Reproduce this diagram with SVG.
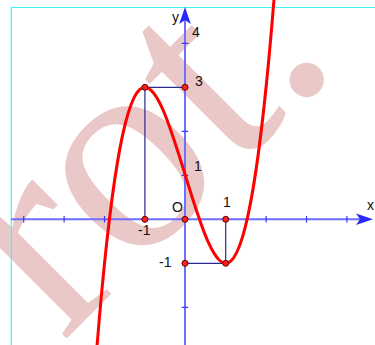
<svg xmlns="http://www.w3.org/2000/svg" width="375" height="345" viewBox="0 0 375 345">
<style>
.wm{font-family:"Liberation Serif",serif;font-size:290px;fill:#eac8c8}
.ax{stroke:#6e6eff;stroke-width:2;fill:none}
.tk{stroke:#3a3aee;stroke-width:1.2}
.pr{stroke:#2a2a90;stroke-width:1.2;fill:none}
.fr{stroke:#40f4f4;stroke-width:1.2;fill:none}
.lb{font-family:"Liberation Sans",Arial,sans-serif;font-size:14px;fill:#111}
.pt{fill:#ff2020;stroke:#600;stroke-width:1}
.ar{fill:#2828ff}
</style>
<rect width="375" height="345" fill="#fff"/>
<text class="wm" transform="translate(62.5,342.6) rotate(-45)">rot.</text>
<path class="fr" d="M11.3,345 V7.5 H375"/>
<g id="axes">
<path class="ax" d="M11,219.3 H364"/>
<path class="ax" d="M185,345 V15"/>
<path class="ar" d="M373,219.3 L356,213.5 L360,219.3 L356,225.1 Z"/>
<path class="ar" d="M185,7 L179.2,24 L185,20 L190.8,24 Z"/>
<path class="tk" d="M23.7,216 v6.6 M64.1,216 v6.6 M104.5,216 v6.6 M144.9,216 v6.6 M225.7,216 v6.6 M266.1,216 v6.6 M306.5,216 v6.6 M346.9,216 v6.6 M181.7,43.3 h6.6 M181.7,87.3 h6.6 M181.7,131.3 h6.6 M181.7,175.3 h6.6 M181.7,263.3 h6.6 M181.7,307.3 h6.6"/>
</g>
<g id="connectors">
<path class="pr" d="M144.9,87.3 V219.3 M144.9,87.3 H185"/>
<path class="pr" d="M225.7,219.3 V263.3 H185"/>
</g>
<g id="curve">
<path d="M94.4,379.49 C155,-424.89 215.6,775.49 276.2,-28.89" fill="none" stroke="#ff0000" stroke-width="3"/>
</g>
<g id="points">
<circle class="pt" cx="144.9" cy="87.3" r="3"/>
<circle class="pt" cx="185" cy="87.3" r="3"/>
<circle class="pt" cx="144.9" cy="219.3" r="3"/>
<circle class="pt" cx="185" cy="219.3" r="3"/>
<circle class="pt" cx="225.7" cy="219.3" r="3"/>
<circle class="pt" cx="225.7" cy="263.3" r="3"/>
<circle class="pt" cx="185" cy="263.3" r="3"/>
</g>
<g id="labels">
<text class="lb" x="172" y="22">y</text>
<text class="lb" x="367" y="210">x</text>
<text class="lb" x="192" y="37">4</text>
<text class="lb" x="195" y="86">3</text>
<text class="lb" x="194" y="171">1</text>
<text class="lb" x="172" y="212">O</text>
<text class="lb" x="223" y="207">1</text>
<text class="lb" x="138" y="235">-1</text>
<text class="lb" x="159" y="267">-1</text>
</g>
</svg>
